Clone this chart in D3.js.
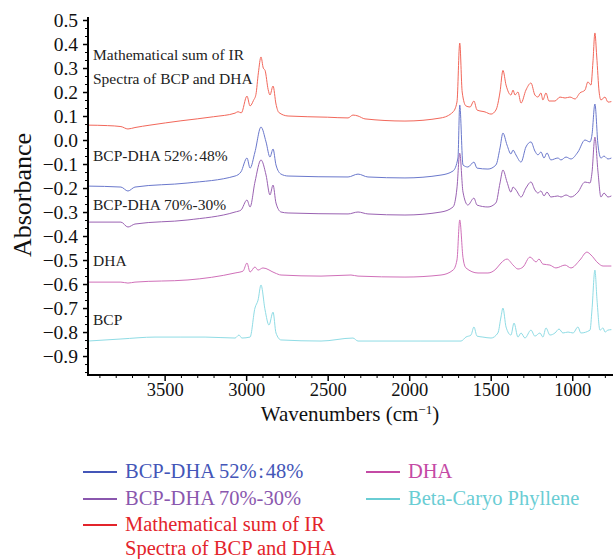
<!DOCTYPE html>
<html><head><meta charset="utf-8">
<script src="https://cdn.jsdelivr.net/npm/d3@7"></script>
<style>body{margin:0;background:#fff}svg{display:block}</style>
</head><body><svg id="c" width="613" height="559"></svg>
<script>
// ---- data: [wavenumber (cm-1), absorbance] ----
const sumSpectrum = [[3970,0.062],[3850,0.060],[3768,0.056],[3725,0.046],[3682,0.052],[3590,0.062],[3400,0.080],[3200,0.097],[3068,0.112],[3050,0.118],[3030,0.113],[2995,0.183],[2976,0.142],[2955,0.165],[2940,0.19],[2925,0.28],[2909,0.346],[2895,0.30],[2884,0.29],[2865,0.21],[2854,0.1875],[2835,0.225],[2817,0.15],[2800,0.115],[2743,0.10],[2500,0.095],[2375,0.092],[2345,0.104],[2314,0.10],[2271,0.088],[2026,0.079],[1805,0.092],[1731,0.117],[1707,0.158],[1690,0.404],[1675,0.20],[1652,0.142],[1627,0.1375],[1603,0.1625],[1584,0.125],[1535,0.117],[1498,0.108],[1468,0.125],[1443,0.20],[1425,0.29],[1406,0.229],[1376,0.1875],[1363,0.208],[1351,0.1875],[1333,0.20],[1314,0.154],[1284,0.208],[1253,0.2375],[1229,0.1875],[1210,0.179],[1192,0.196],[1180,0.167],[1161,0.196],[1143,0.1625],[1106,0.1625],[1075,0.179],[1044,0.175],[1014,0.179],[983,0.171],[953,0.196],[922,0.208],[904,0.242],[885,0.229],[873,0.325],[861,0.446],[850,0.35],[835,0.20],[824,0.167],[799,0.179],[781,0.158],[760,0.16]];
const blend52 = [[3970,-0.192],[3768,-0.196],[3725,-0.2125],[3682,-0.196],[3357,-0.179],[3068,-0.15],[3032,-0.133],[2995,-0.075],[2976,-0.117],[2946,-0.05],[2909,0.054],[2878,-0.008],[2854,-0.071],[2835,-0.0375],[2817,-0.104],[2786,-0.142],[2743,-0.15],[2375,-0.154],[2314,-0.142],[2253,-0.154],[2026,-0.158],[1805,-0.146],[1731,-0.129],[1701,-0.075],[1690,0.146],[1670,-0.104],[1640,-0.1125],[1603,-0.092],[1584,-0.117],[1517,-0.121],[1468,-0.104],[1443,-0.033],[1425,0.029],[1400,-0.021],[1376,-0.058],[1363,-0.042],[1345,-0.0625],[1314,-0.092],[1284,-0.029],[1253,-0.008],[1229,-0.046],[1210,-0.062],[1192,-0.05],[1173,-0.075],[1155,-0.054],[1131,-0.083],[1088,-0.075],[1069,-0.083],[1038,-0.071],[1008,-0.079],[965,-0.05],[922,0],[891,-0.008],[879,0.021],[861,0.15],[842,-0.021],[824,-0.075],[805,-0.067],[781,-0.079],[760,-0.075]];
const blend70 = [[3970,-0.342],[3768,-0.342],[3725,-0.3625],[3682,-0.35],[3357,-0.333],[3068,-0.3],[3032,-0.292],[2995,-0.25],[2976,-0.279],[2946,-0.175],[2909,-0.083],[2878,-0.146],[2854,-0.229],[2835,-0.1875],[2817,-0.2625],[2786,-0.3],[2743,-0.304],[2375,-0.308],[2314,-0.3],[2253,-0.308],[2026,-0.3125],[1805,-0.3],[1731,-0.279],[1707,-0.2],[1690,-0.055],[1670,-0.217],[1640,-0.271],[1603,-0.242],[1584,-0.271],[1517,-0.279],[1468,-0.262],[1443,-0.179],[1425,-0.125],[1400,-0.175],[1376,-0.217],[1363,-0.196],[1345,-0.208],[1314,-0.2375],[1284,-0.2],[1253,-0.175],[1229,-0.208],[1210,-0.221],[1192,-0.212],[1173,-0.233],[1155,-0.217],[1131,-0.2375],[1088,-0.233],[1069,-0.2375],[1038,-0.229],[1008,-0.2375],[965,-0.217],[922,-0.175],[891,-0.179],[879,-0.137],[861,0.012],[842,-0.133],[824,-0.2375],[805,-0.221],[781,-0.2375],[760,-0.233]];
const dhaSpectrum = [[3970,-0.592],[3768,-0.592],[3725,-0.596],[3682,-0.592],[3357,-0.583],[3068,-0.554],[3019,-0.546],[2995,-0.5125],[2976,-0.55],[2946,-0.529],[2927,-0.542],[2897,-0.533],[2823,-0.554],[2786,-0.5625],[2541,-0.567],[2357,-0.5625],[2314,-0.567],[2026,-0.571],[1805,-0.5625],[1731,-0.542],[1707,-0.5],[1690,-0.333],[1670,-0.49],[1652,-0.533],[1578,-0.554],[1517,-0.554],[1468,-0.5375],[1437,-0.5125],[1400,-0.496],[1363,-0.521],[1333,-0.5375],[1302,-0.529],[1259,-0.4875],[1222,-0.508],[1204,-0.496],[1180,-0.517],[1137,-0.521],[1100,-0.533],[1044,-0.521],[1008,-0.533],[953,-0.5],[910,-0.467],[885,-0.479],[842,-0.5125],[811,-0.525],[781,-0.525],[760,-0.525]];
const bcpSpectrum = [[3970,-0.8375],[3768,-0.829],[3559,-0.821],[3400,-0.821],[3252,-0.821],[3068,-0.825],[3044,-0.8125],[3026,-0.825],[2976,-0.821],[2946,-0.7],[2927,-0.667],[2909,-0.604],[2884,-0.708],[2860,-0.771],[2835,-0.717],[2817,-0.804],[2786,-0.833],[2541,-0.8375],[2345,-0.825],[2314,-0.8375],[1928,-0.8375],[1682,-0.8375],[1652,-0.821],[1621,-0.8125],[1603,-0.779],[1584,-0.817],[1548,-0.821],[1498,-0.825],[1456,-0.804],[1437,-0.7375],[1425,-0.7],[1406,-0.779],[1376,-0.8125],[1357,-0.7625],[1333,-0.821],[1314,-0.804],[1290,-0.825],[1253,-0.792],[1229,-0.817],[1198,-0.804],[1180,-0.821],[1161,-0.783],[1137,-0.8125],[1106,-0.804],[1081,-0.7875],[1057,-0.804],[1026,-0.8],[995,-0.804],[965,-0.779],[947,-0.804],[891,-0.792],[879,-0.708],[861,-0.542],[848,-0.667],[830,-0.792],[811,-0.783],[799,-0.8],[781,-0.792],[760,-0.79]];

const xTicks = [3500,3000,2500,2000,1500,1000];
const yTicks = [0.5,0.4,0.3,0.2,0.1,0.0,-0.1,-0.2,-0.3,-0.4,-0.5,-0.6,-0.7,-0.8,-0.9];
const seriesNames = ["BCP-DHA 52%\u200A:\u200A48%","BCP-DHA 70%-30%","Mathematical sum of IR|Spectra of BCP and DHA","DHA","Beta-Caryo Phyllene"];
const inPlotLabels = ["Mathematical sum of IR|Spectra of BCP and DHA","BCP-DHA 52%\u200A:\u200A48%","BCP-DHA 70%-30%","DHA","BCP"];
const inPlotLabelY = [0.333, -0.0875, -0.292, -0.525, -0.771];

const seriesData = [blend52, blend70, sumSpectrum, dhaSpectrum, bcpSpectrum];
const lineColors = ["#6a78cc","#9a62b2","#f2675a","#d070b9","#8fdce5"];
const textColors = ["#4456b8","#8a57ae","#e3242b","#c44aa5","#6acdd4"];

const svg = d3.select("#c");
const serif = "Liberation Serif, DejaVu Serif, serif";
const L = 88, R = 613, T = 17, B = 375;
const x = d3.scaleLinear().domain([3970, 750]).range([L, R]);
const y = d3.scaleLinear().domain([0.5125, -0.979]).range([T, B]);

svg.append("defs").append("clipPath").attr("id","clip")
  .append("rect").attr("x",L).attr("y",T-5).attr("width",R-L).attr("height",B-T+5);

const line = d3.line().x(d=>x(d[0])).y(d=>y(d[1])).curve(d3.curveMonotoneX);
const g = svg.append("g").attr("clip-path","url(#clip)");
seriesData.forEach((s,i)=>{
  g.append("path").datum(s).attr("d",line).attr("fill","none")
   .attr("stroke",lineColors[i]).attr("stroke-width",1);
});

// in-plot labels
inPlotLabels.forEach((t,i)=>{
  const parts = t.split("|");
  const txt = svg.append("text").attr("x",93).attr("y",y(inPlotLabelY[i]))
    .style("font-family",serif).style("font-size","15.5px").attr("fill","#222");
  parts.forEach((p,j)=>txt.append("tspan").attr("x",93).attr("dy", j===0?0:24).text(p));
});

// axes
const fmt = d => (d<0?"\u2212":"") + Math.abs(d).toFixed(1);
const yAxis = svg.append("g").attr("transform",`translate(${L},0)`)
  .call(d3.axisLeft(y).tickValues(yTicks).tickFormat(fmt).tickSize(5).tickPadding(5));
const yMinor = d3.range(-29,16).map(k=>k/30).filter(v=>v>=-0.979 && v<=0.5125 && Math.abs(v*10-Math.round(v*10))>1e-6);
svg.append("g").attr("transform",`translate(${L},0)`)
  .call(d3.axisLeft(y).tickValues(yMinor).tickFormat("").tickSize(3))
  .select(".domain").remove();
const xAxis = svg.append("g").attr("transform",`translate(0,${B})`)
  .call(d3.axisBottom(x).tickValues(xTicks).tickFormat(d3.format("d")).tickSize(6).tickPadding(2));
const xMinor = d3.range(800,4000,100).filter(v=>v%500!==0);
svg.append("g").attr("transform",`translate(0,${B})`)
  .call(d3.axisBottom(x).tickValues(xMinor).tickFormat("").tickSize(3))
  .select(".domain").remove();
[yAxis,xAxis].forEach((a,k)=>{
  const fs = k===0 ? "19.5px" : "18.5px";
  a.attr("font-family",serif).attr("font-size",null);
  a.select(".domain").remove();
  a.selectAll("text").style("font-family",serif).style("font-size",fs).attr("fill","#111");
  a.selectAll(".tick line").attr("stroke-width",1.5);
});
svg.append("path").attr("d",`M${L},${T}V${B}H${R}`).attr("fill","none").attr("stroke","#000").attr("stroke-width",2);

// axis titles
svg.append("text").attr("transform","translate(31,195) rotate(-90)").attr("text-anchor","middle")
  .style("font-family",serif).style("font-size","26px").attr("fill","#111").text("Absorbance");
const xt = svg.append("text").attr("x",350).attr("y",421).attr("text-anchor","middle")
  .style("font-family",serif).style("font-size","21px").attr("fill","#111");
xt.append("tspan").text("Wavenumbers (cm");
xt.append("tspan").style("font-size","13px").attr("dy",-7).text("\u22121");
xt.append("tspan").attr("dy",7).text(")");

// legend
const legPos = [[83,472],[83,499],[83,525],[366,472],[366,499]];
seriesNames.forEach((n,i)=>{
  const [lx,ly] = legPos[i];
  svg.append("line").attr("x1",lx).attr("x2",lx+34).attr("y1",ly).attr("y2",ly)
    .attr("stroke",textColors[i]).attr("stroke-width",2);
  const t = svg.append("text").attr("x",lx+42).attr("y",ly+6)
    .style("font-family",serif).style("font-size","20.5px").attr("fill",textColors[i]);
  n.split("|").forEach((p,j)=>t.append("tspan").attr("x",lx+42).attr("dy",j===0?0:24).text(p));
});
</script></body></html>
